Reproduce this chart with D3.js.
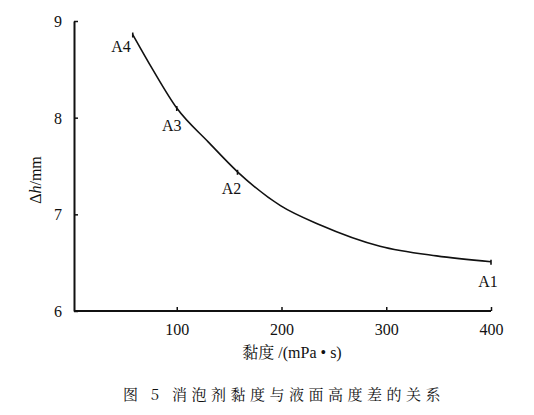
<!DOCTYPE html>
<meta charset="utf-8">
<script src="https://d3js.org/d3.v7.min.js"></script>

<style>
body {
  margin: 0;
  background: #fff;
}
svg {
  display: block;
}
.axis path, .axis line {
  stroke: #111;
}
.axis path {
  stroke-width: 2;
}
.curve {
  fill: none;
  stroke: #111;
  stroke-width: 1.6;
}
</style>

<svg width="534" height="415"></svg>

<script>
// values
const viscosity = [58, 77, 100, 130, 158, 199, 237, 294, 348, 400];
const deltaH = [8.86, 8.50, 8.10, 7.75, 7.44, 7.09, 6.89, 6.67, 6.57, 6.51];

const pointNames = ['A4', 'A3', 'A2', 'A1'];
const pointX = [58, 100, 158, 400];
const pointY = [8.86, 8.10, 7.44, 6.51];

const xTicks = [100, 200, 300, 400];
const yTicks = [6, 7, 8, 9];

const svg = d3.select('svg');
const serif = 'Liberation Serif, Times New Roman, serif';
const cjk = 'Noto Serif CJK SC, Noto Sans CJK SC, serif';

const x = d3.scaleLinear().domain([0, 400]).range([72, 491]);
const y = d3.scaleLinear().domain([6, 9]).range([311, 21]);

// x axis, ticks pointing inward
svg.append('g')
  .attr('class', 'axis')
  .attr('transform', `translate(0, ${y(6)})`)
  .call(d3.axisBottom(x).tickValues(xTicks).tickFormat(d3.format('d'))
    .tickSizeInner(-4).tickSizeOuter(0).tickPadding(10))
  .call(g => g.select('.domain').attr('d', `M${x(0) + 2},0H${x(400)}`))
  .call(g => g.selectAll('.tick text').attr('dy', '0.9em'));

// y axis
svg.append('g')
  .attr('class', 'axis')
  .attr('transform', `translate(${x(0) + 2}, 0)`)
  .call(d3.axisLeft(y).tickValues(yTicks).tickFormat(d3.format('d'))
    .tickSizeInner(-4).tickSizeOuter(0).tickPadding(12))
  .call(g => g.selectAll('.tick text').attr('dy', '0.35em'));

svg.selectAll('.axis')
  .attr('font-family', serif)
  .attr('font-size', 16);
svg.selectAll('.axis .tick text')
  .attr('font-family', serif)
  .attr('font-size', 16)
  .attr('fill', '#111');
svg.selectAll('.axis .tick line').attr('stroke-width', 1.5);

const line = d3.line()
  .x((d, i) => x(viscosity[i]))
  .y(d => y(d))
  .curve(d3.curveMonotoneX);

svg.append('path')
  .attr('class', 'curve')
  .attr('d', line(deltaH));

// small tick marks at the named points
svg.selectAll('.mark')
  .data(pointNames)
  .enter()
  .append('line')
  .attr('class', 'mark')
  .attr('x1', (d, i) => x(pointX[i]))
  .attr('x2', (d, i) => x(pointX[i]))
  .attr('y1', (d, i) => y(pointY[i]) - 2)
  .attr('y2', (d, i) => y(pointY[i]) + 3)
  .attr('stroke', '#111')
  .attr('stroke-width', 1.6);

const labelDx = [-2, -5, -6, -3];
const labelDy = [17, 23, 22, 25];
const labelAnchor = ['end', 'middle', 'middle', 'middle'];

svg.selectAll('.ptlabel')
  .data(pointNames)
  .enter()
  .append('text')
  .attr('class', 'ptlabel')
  .attr('font-family', serif)
  .attr('font-size', 16)
  .attr('fill', '#111')
  .attr('x', (d, i) => x(pointX[i]) + labelDx[i])
  .attr('y', (d, i) => y(pointY[i]) + labelDy[i])
  .attr('text-anchor', (d, i) => labelAnchor[i])
  .text(d => d);

// axis titles
const yTitle = svg.append('text')
  .attr('transform', 'translate(41, 180) rotate(-90)')
  .attr('text-anchor', 'middle')
  .attr('font-family', serif)
  .attr('font-size', 16)
  .attr('fill', '#111');
yTitle.append('tspan').text('Δ');
yTitle.append('tspan').attr('font-style', 'italic').text('h');
yTitle.append('tspan').text('/mm');

const xTitle = svg.append('text')
  .attr('x', 292)
  .attr('y', 358)
  .attr('text-anchor', 'middle')
  .attr('font-family', serif)
  .attr('font-size', 16)
  .attr('fill', '#111');
xTitle.append('tspan').attr('font-family', cjk).text('黏度');
xTitle.append('tspan').text(' /(mPa • s)');

svg.append('text')
  .attr('class', 'caption')
  .attr('x', 284)
  .attr('y', 400)
  .attr('text-anchor', 'middle')
  .attr('font-family', cjk)
  .attr('font-size', 15)
  .attr('letter-spacing', 4.5)
  .attr('fill', '#111')
  .text('图 5  消泡剂黏度与液面高度差的关系');
</script>
